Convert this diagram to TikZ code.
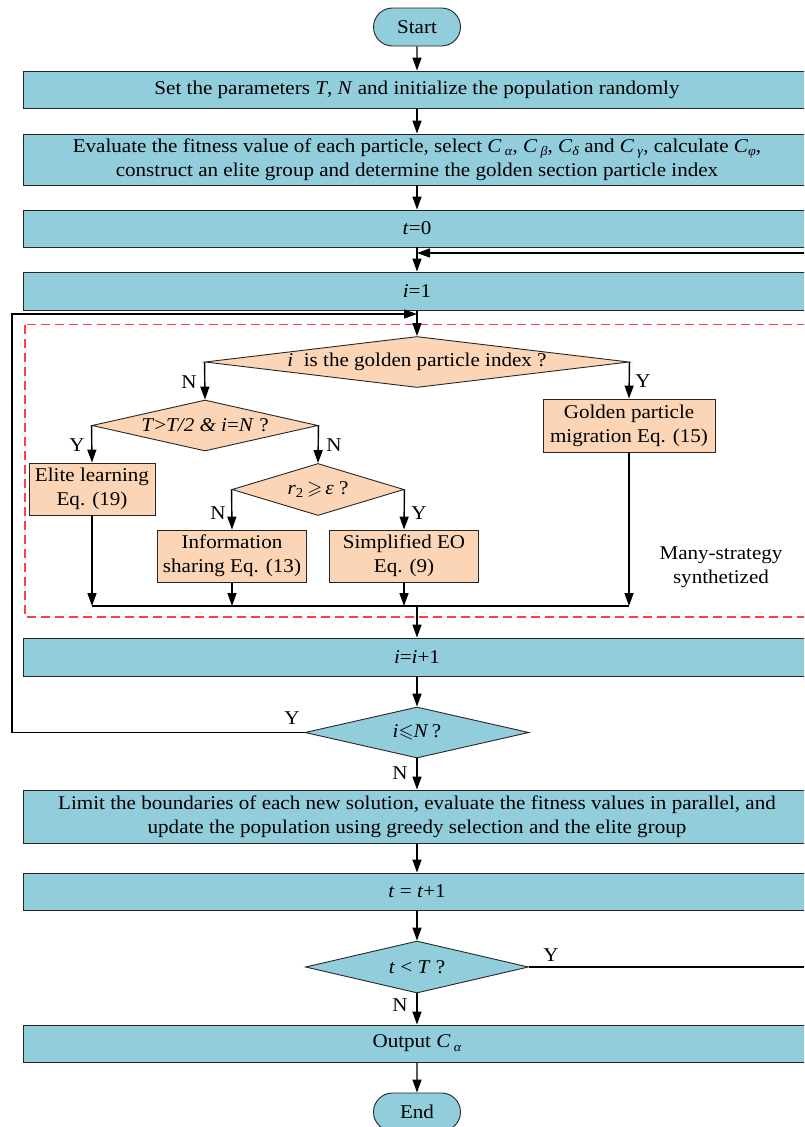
\documentclass[tikz,border=0pt]{standalone}
\usepackage{fontspec}
\setmainfont[FakeStretch=1.08]{Liberation Serif}
\usepackage{amssymb}
\usetikzlibrary{arrows.meta,shapes.geometric,shapes.misc}
\definecolor{bl}{RGB}{146,205,220}
\definecolor{orf}{RGB}{251,213,181}
\definecolor{dred}{RGB}{255,64,64}
\newcommand\lsub[1]{\raisebox{-0.35ex}{\fontsize{13}{13}\selectfont\textit{#1}}}
\begin{document}
\begin{tikzpicture}[x=1pt,y=-1pt,
  every node/.style={font=\fontsize{19.5}{24}\selectfont},
  wide/.style={rectangle,draw=black!85,line width=0.9pt,fill=bl,minimum width=788pt,inner sep=0pt,align=center},
  obox/.style={rectangle,draw=black!85,line width=0.9pt,fill=orf,inner sep=0pt,align=center},
  dia/.style={diamond,draw=black!85,line width=0.9pt,inner sep=0pt},
  term/.style={rounded rectangle,draw=black!85,line width=0.9pt,fill=bl,minimum width=87pt,minimum height=38pt,inner sep=0pt},
  conn/.style={line width=1.4pt,draw=black},
  arr/.style={conn,-{Triangle[length=13pt,width=9pt]}},
  lbl/.style={inner sep=0pt}
]
\useasboundingbox (0,0) rectangle (804,1127);
\clip (0,0) rectangle (804,1127);

% dashed region
\draw[dred,dash pattern=on 9pt off 5pt,line width=1.2pt] (25,324.5) rectangle (830,617);

\node[term] (start) at (417,27) {Start};
\node[wide,minimum height=37pt] (b1) at (417,89.5) {Set the parameters \textit{T}, \textit{N} and initialize the population randomly};
\node[wide,minimum height=51pt] (b2) at (417,159.5) {Evaluate the fitness value of each particle, select \textit{C}\,\lsub{α}, \textit{C}\,\lsub{β}, \textit{C}\lsub{δ} and \textit{C}\,\lsub{γ}, calculate \textit{C}\lsub{φ},\\construct an elite group and determine the golden section particle index};
\node[wide,minimum height=37pt] (b3) at (417,228.5) {\textit{t}=0};
\node[wide,minimum height=38pt] (b4) at (417,291) {\textit{i}=1};

\node[dia,fill=orf,minimum width=424pt,minimum height=51pt] (d1) at (417,362) {};
\node[lbl] (d1t) at (d1) {\textit{i}\ \ is the golden particle index ?};
\node[dia,fill=orf,minimum width=226pt,minimum height=51pt] (d2) at (205,425.5) {};
\node[lbl] (d2t) at (d2) {\textit{T}>\textit{T/2 \& i}=\textit{N} ?};
\node[dia,fill=orf,minimum width=172pt,minimum height=52pt] (d3) at (318,489.5) {};
\node[lbl] (d3t) at (d3) {\textit{r}\textsubscript{2}\,$\geqslant$\,\textit{ε} ?};

\node[obox,minimum width=172pt,minimum height=53pt] (gold) at (629,425.5) {Golden particle\\migration Eq. (15)};
\node[obox,minimum width=126pt,minimum height=52pt] (elite) at (92,489) {Elite learning\\Eq. (19)};
\node[obox,minimum width=149pt,minimum height=52pt] (info) at (232,556) {Information\\sharing Eq. (13)};
\node[obox,minimum width=149pt,minimum height=52pt] (simp) at (404,556) {Simplified EO\\Eq. (9)};

\node[align=center,inner sep=0pt] (ms) at (721,567) {Many-strategy\\synthetized};

\node[wide,minimum height=38pt] (b5) at (417,657) {\textit{i}=\textit{i}+1};
\node[dia,fill=bl,minimum width=224pt,minimum height=51pt] (d4) at (417,732.5) {};
\node[lbl] (d4t) at (d4) {\textit{i}$\leqslant$\textit{N}\,?};
\node[wide,minimum height=53pt] (b6) at (417,816.5) {Limit the boundaries of each new solution, evaluate the fitness values in parallel, and\\update the population using greedy selection and the elite group};
\node[wide,minimum height=37pt] (b7) at (417,891.5) {\textit{t} = \textit{t}+1};
\node[dia,fill=bl,minimum width=223pt,minimum height=52pt] (d5) at (417,967) {};
\node[lbl] (d5t) at (d5) {\textit{t} < \textit{T} ?};
\node[wide,minimum height=37pt] (b8) at (417,1043.5) {Output \textit{C}\,\lsub{α}};
\node[term] (end) at (417,1112) {End};

\coordinate (j0) at (417,253);
\coordinate (j1) at (417,314);
\coordinate (mL) at (92,606);
\coordinate (mM) at (417,606);
\coordinate (mR) at (629,606);
\coordinate (cL) at (12,0);
\coordinate (cR) at (812,0);

\draw[arr] (start) -- (b1);
\draw[arr] (b1) -- (b2);
\draw[arr] (b2) -- (b3);
\draw[arr] (b3) -- (b4);
\draw[arr] (b4) -- (d1);
\draw[arr] (d1.west) -- (d2.north);
\draw[arr] (d1.east) -- (gold.north);
\draw[arr] (d2.west) -- (elite.north);
\draw[arr] (d2.east) -- (d3.north);
\draw[arr] (d3.west) -- (info.north);
\draw[arr] (d3.east) -- (simp.north);
\draw[arr] (elite.south) -- (mL);
\draw[arr] (info.south) -- (info.south |- mL);
\draw[arr] (simp.south) -- (simp.south |- mL);
\draw[arr] (gold.south) -- (mR);
\draw[conn] (mL) -- (mR);
\draw[arr] (mM) -- (b5);
\draw[arr] (b5) -- (d4);
\draw[arr] (d4) -- (b6);
\draw[arr] (b6) -- (b7);
\draw[arr] (b7) -- (d5);
\draw[arr] (d5) -- (b8);
\draw[arr] (b8) -- (end);
\draw[arr] (d4.west) -| (cL |- j1) -- (j1);
\draw[arr] (d5.east) -| (cR |- j0) -- (j0);

\node[lbl] (n1) at (189,382) {N};
\node[lbl] (y1) at (643,381) {Y};
\node[lbl] (y2) at (77,445) {Y};
\node[lbl] (n2) at (334,445) {N};
\node[lbl] (n3) at (218,513) {N};
\node[lbl] (y3) at (419,513) {Y};
\node[lbl] (y4) at (292,718) {Y};
\node[lbl] (n4) at (400,773) {N};
\node[lbl] (y5) at (551,955) {Y};
\node[lbl] (n5) at (400,1005) {N};
\end{tikzpicture}
\end{document}
